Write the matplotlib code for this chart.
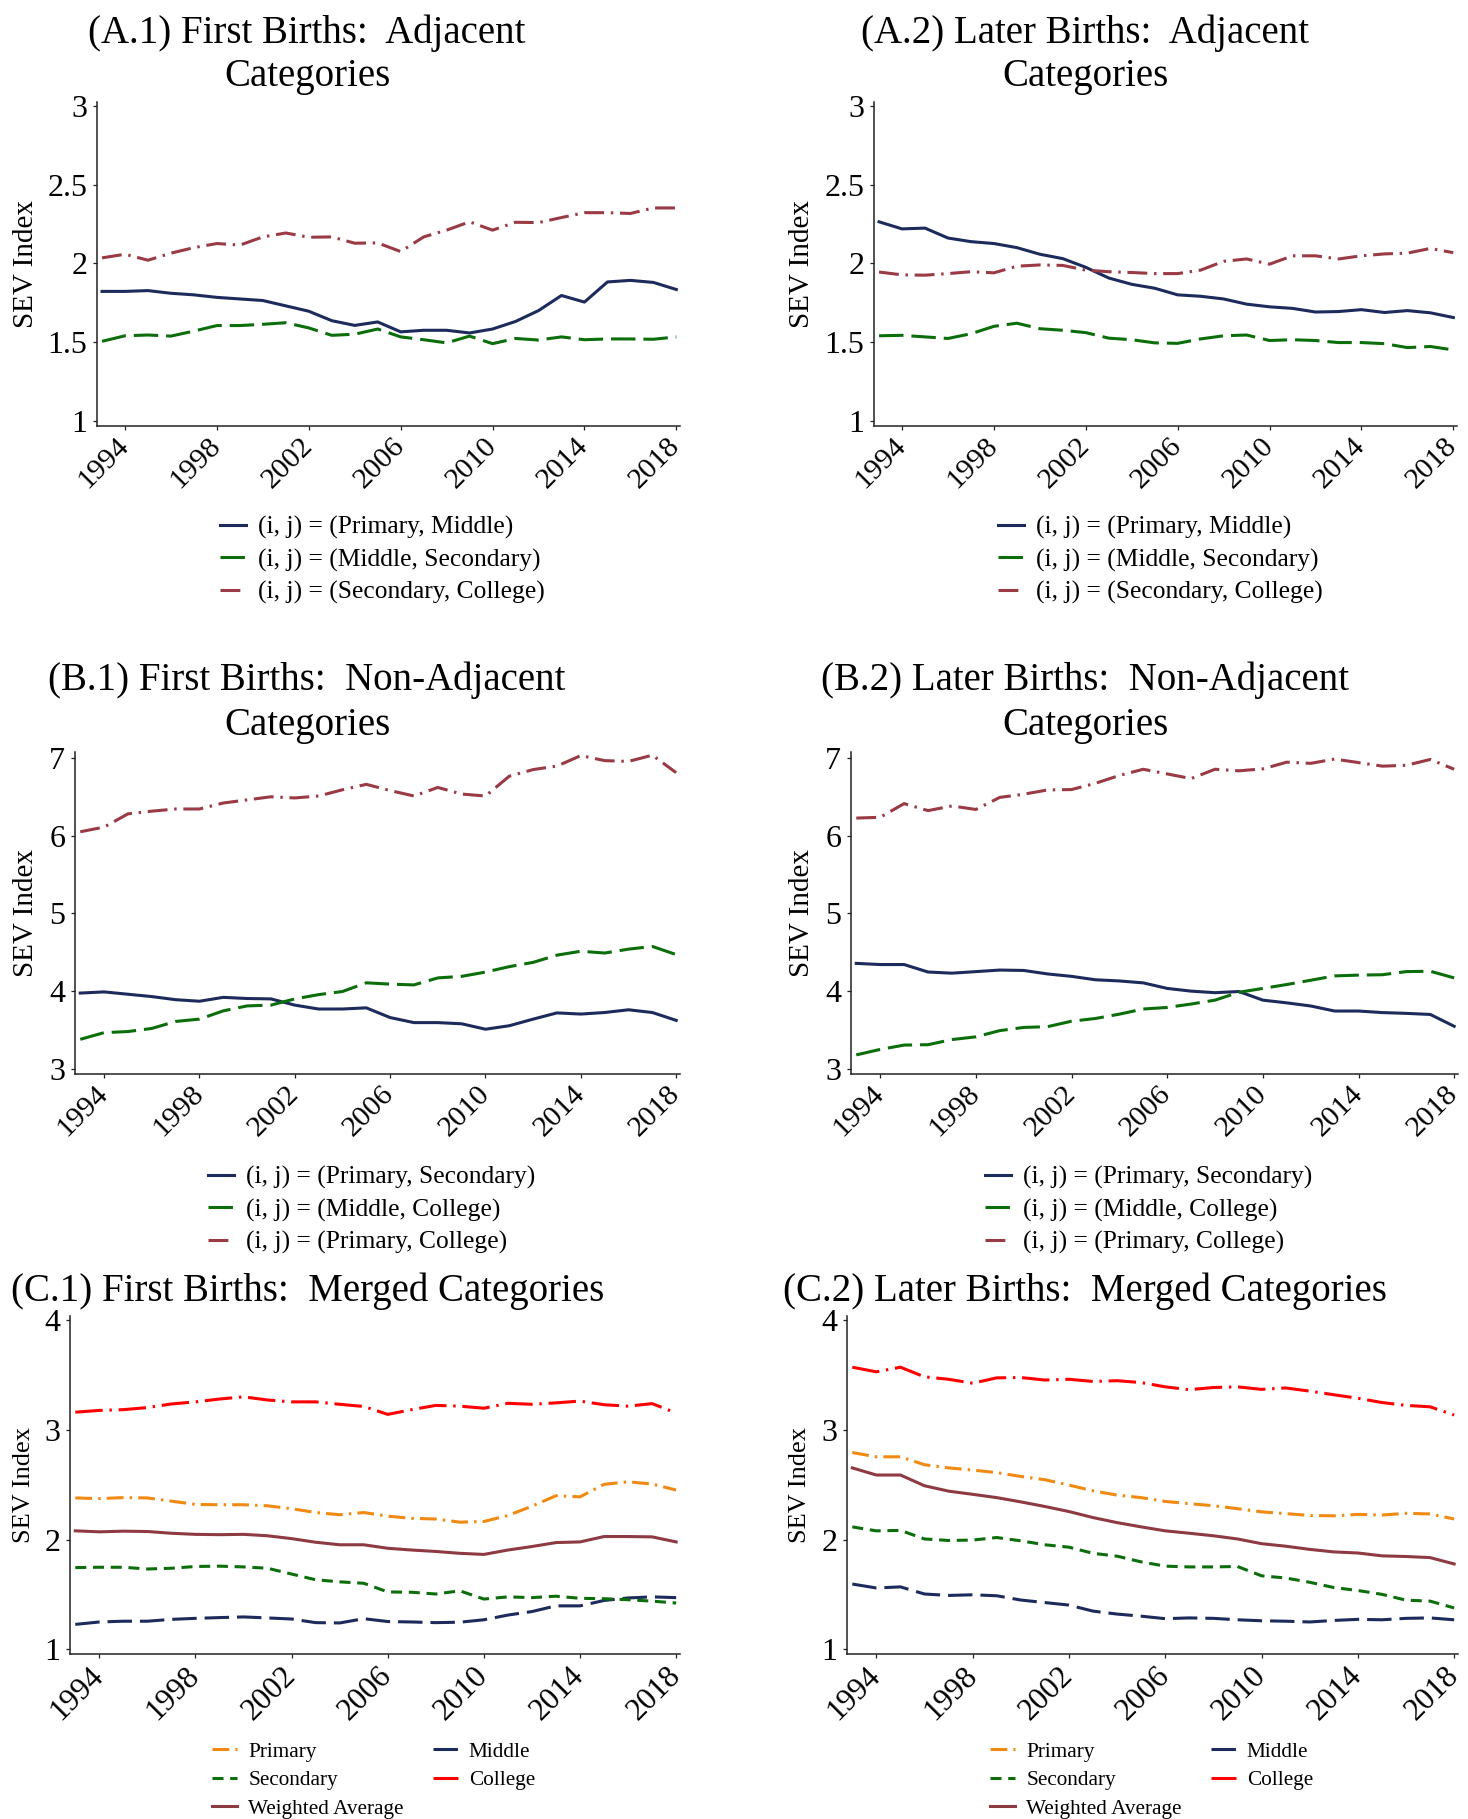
import matplotlib
matplotlib.use("Agg")
import matplotlib.pyplot as plt

plt.rcParams['font.family'] = ['Liberation Serif', 'DejaVu Serif']

# ---------------- data ----------------
years = list(range(1993, 2019))
xticks = [1994, 1998, 2002, 2006, 2010, 2014, 2018]

A1_pm = [1.822,1.822,1.827,1.810,1.800,1.784,1.774,1.764,1.730,1.696,1.636,1.606,1.628,1.565,1.575,1.575,1.558,1.583,1.631,1.700,1.796,1.754,1.882,1.892,1.879,1.834]
A1_ms = [1.505,1.540,1.545,1.538,1.570,1.605,1.605,1.613,1.623,1.590,1.543,1.550,1.583,1.533,1.515,1.495,1.538,1.490,1.523,1.513,1.533,1.515,1.520,1.520,1.518,1.533]
A1_sc = [2.035,2.058,2.020,2.065,2.100,2.126,2.116,2.168,2.193,2.166,2.168,2.128,2.130,2.075,2.168,2.211,2.264,2.211,2.261,2.259,2.291,2.322,2.322,2.317,2.352,2.352]

A2_pm = [2.264,2.219,2.224,2.161,2.138,2.126,2.100,2.058,2.030,1.975,1.907,1.867,1.842,1.800,1.791,1.774,1.741,1.724,1.714,1.691,1.694,1.706,1.688,1.700,1.686,1.656]
A2_ms = [1.540,1.543,1.533,1.523,1.553,1.600,1.620,1.585,1.575,1.560,1.525,1.515,1.495,1.492,1.520,1.540,1.545,1.510,1.515,1.510,1.497,1.497,1.490,1.465,1.472,1.450]
A2_sc = [1.945,1.927,1.925,1.935,1.947,1.940,1.982,1.990,1.987,1.957,1.947,1.942,1.935,1.935,1.957,2.013,2.028,1.995,2.048,2.048,2.028,2.048,2.060,2.065,2.095,2.068]

B1_ps = [3.975,3.990,3.960,3.930,3.890,3.870,3.920,3.905,3.900,3.820,3.770,3.770,3.785,3.660,3.595,3.595,3.580,3.510,3.555,3.640,3.720,3.705,3.725,3.760,3.725,3.624]
B1_mc = [3.380,3.466,3.480,3.520,3.610,3.640,3.746,3.810,3.820,3.900,3.955,3.995,4.107,4.090,4.080,4.170,4.190,4.245,4.315,4.370,4.463,4.513,4.490,4.540,4.575,4.470]
B1_pc = [6.050,6.110,6.280,6.315,6.343,6.343,6.420,6.460,6.500,6.485,6.510,6.590,6.660,6.580,6.510,6.620,6.535,6.510,6.765,6.850,6.895,7.030,6.965,6.955,7.035,6.810]

B2_ps = [4.357,4.342,4.342,4.246,4.231,4.251,4.271,4.266,4.221,4.190,4.146,4.131,4.106,4.035,4.000,3.980,3.995,3.884,3.849,3.809,3.744,3.744,3.724,3.714,3.700,3.548]
B2_mc = [3.180,3.250,3.306,3.311,3.377,3.412,3.492,3.533,3.543,3.613,3.648,3.704,3.770,3.790,3.834,3.884,3.985,4.035,4.085,4.140,4.196,4.206,4.211,4.251,4.256,4.170]
B2_pc = [6.226,6.236,6.412,6.322,6.382,6.337,6.492,6.533,6.588,6.593,6.673,6.774,6.854,6.794,6.734,6.854,6.834,6.859,6.945,6.930,6.985,6.940,6.894,6.905,6.980,6.854]

C1_primary   = [2.381,2.375,2.384,2.381,2.352,2.322,2.319,2.319,2.309,2.283,2.248,2.228,2.248,2.215,2.195,2.189,2.160,2.166,2.221,2.306,2.401,2.391,2.505,2.528,2.508,2.453]
C1_middle    = [1.228,1.250,1.257,1.257,1.274,1.283,1.290,1.296,1.287,1.277,1.244,1.241,1.280,1.254,1.250,1.244,1.248,1.270,1.313,1.345,1.397,1.397,1.446,1.469,1.479,1.472]
C1_secondary = [1.746,1.749,1.749,1.733,1.740,1.756,1.759,1.752,1.740,1.687,1.635,1.616,1.603,1.524,1.521,1.505,1.534,1.459,1.479,1.472,1.485,1.466,1.462,1.453,1.440,1.423]
C1_college   = [3.163,3.179,3.186,3.205,3.238,3.257,3.283,3.303,3.274,3.257,3.257,3.235,3.215,3.143,3.186,3.225,3.218,3.199,3.244,3.235,3.248,3.264,3.231,3.218,3.241,3.156]
C1_wavg      = [2.081,2.072,2.078,2.075,2.059,2.049,2.046,2.049,2.036,2.010,1.977,1.954,1.954,1.922,1.906,1.893,1.876,1.866,1.906,1.938,1.974,1.980,2.029,2.029,2.026,1.980]

C2_primary   = [2.795,2.756,2.756,2.684,2.655,2.635,2.612,2.577,2.547,2.498,2.446,2.407,2.384,2.349,2.329,2.310,2.283,2.254,2.238,2.221,2.218,2.231,2.225,2.241,2.235,2.189]
C2_middle    = [1.596,1.560,1.570,1.505,1.492,1.498,1.489,1.450,1.427,1.404,1.349,1.322,1.303,1.280,1.287,1.283,1.270,1.261,1.257,1.250,1.264,1.274,1.270,1.283,1.287,1.270]
C2_secondary = [2.117,2.081,2.085,2.007,1.993,1.997,2.020,1.990,1.954,1.932,1.876,1.850,1.798,1.759,1.752,1.752,1.756,1.671,1.651,1.612,1.564,1.537,1.502,1.449,1.440,1.378]
C2_college   = [3.573,3.531,3.573,3.485,3.463,3.427,3.476,3.479,3.456,3.463,3.443,3.450,3.433,3.394,3.368,3.388,3.394,3.371,3.384,3.355,3.322,3.290,3.251,3.225,3.212,3.137]
C2_wavg      = [2.655,2.590,2.590,2.492,2.443,2.414,2.384,2.345,2.303,2.257,2.202,2.156,2.117,2.081,2.059,2.036,2.007,1.964,1.941,1.912,1.889,1.879,1.853,1.847,1.837,1.779]

A_labels = ["(i, j) = (Primary, Middle)", "(i, j) = (Middle, Secondary)", "(i, j) = (Secondary, College)"]
B_labels = ["(i, j) = (Primary, Secondary)", "(i, j) = (Middle, College)", "(i, j) = (Primary, College)"]
C_labels = ["Primary", "Secondary", "Weighted Average", "Middle", "College"]

# ---------------- styles ----------------
NAVY = '#1c2b5c'
GREEN = '#0b6e0b'
MAROON = '#9a3a44'
ORANGE = '#f08a12'
RED = '#ff0000'
WAVG = '#8e3a42'
LW = 2.2
solid = '-'
dash_long = (0, (8, 2.6))
dashdot = (0, (6.5, 2.2, 0.8, 2.2))
dash_short = (0, (3.6, 2.2))
dashdot_or = (0, (5.5, 2.0, 0.8, 2.0))
dashdot_red = (0, (9, 2.2, 0.8, 2.2))

W, H = 1468, 1819
fig = plt.figure(figsize=(W / 100, H / 100), dpi=100)


def make_ax(l, r, t, b):
    return fig.add_axes([l / W, 1 - b / H, (r - l) / W, (b - t) / H])


def style_ax(ax, ylim, yticks, ylabs, xfs, yfs, xpad):
    ax.set_xlim(1992.78, 2018.16)
    ax.set_ylim(*ylim)
    for s in ['top', 'right']:
        ax.spines[s].set_visible(False)
    for s in ['left', 'bottom']:
        ax.spines[s].set_linewidth(1.1)
        ax.spines[s].set_color('#222222')
    ax.set_xticks(xticks)
    ax.set_xticklabels([str(x) for x in xticks], rotation=45, ha='right',
                       va='center', rotation_mode='anchor', fontsize=xfs)
    ax.set_yticks(yticks)
    ax.set_yticklabels(ylabs, fontsize=yfs)
    ax.tick_params(axis='both', direction='out', length=3, width=0.9, color='#222222')
    ax.tick_params(axis='y', pad=4.0)
    ax.tick_params(axis='x', pad=xpad)


def title(x, ys, lines, fs=28):
    for y, s in zip(ys, lines):
        fig.text(x / W, 1 - y / H, s, ha='center', va='center', fontsize=fs)


def ylab(x, ax, fs):
    pos = ax.get_position()
    fig.text(x / W, pos.y0 + pos.height / 2, "SEV Index", rotation=90,
             ha='center', va='center', fontsize=fs)


A_yt = [1, 1.5, 2, 2.5, 3]
A_yl = ["1", "1.5", "2", "2.5", "3"]
B_yt = [3, 4, 5, 6, 7]
B_yl = ["3", "4", "5", "6", "7"]
C_yt = [1, 2, 3, 4]
C_yl = ["1", "2", "3", "4"]

# ---------------- row A ----------------
for (l, r, tx, lx, legx, pm, ms, sc, ttl) in [
        (97, 680, 307, 26, 220, A1_pm, A1_ms, A1_sc, ["(A.1) First Births:  Adjacent", "Categories"]),
        (874, 1457, 1085, 802, 998, A2_pm, A2_ms, A2_sc, ["(A.2) Later Births:  Adjacent", "Categories"])]:
    ax = make_ax(l, r, 102, 426)
    h1, = ax.plot(years, pm, color=NAVY, lw=LW, linestyle=solid)
    h2, = ax.plot(years, ms, color=GREEN, lw=LW, linestyle=dash_long)
    h3, = ax.plot(years, sc, color=MAROON, lw=LW, linestyle=dashdot)
    style_ax(ax, (0.967, 3.025), A_yt, A_yl, 21.5, 23, 8.5)
    title(tx, [33, 76.5], ttl)
    ylab(lx, ax, 21)
    ax.legend([h1, h2, h3], A_labels, loc='upper left',
              bbox_to_anchor=(legx / W, 1 - 516 / H), bbox_transform=fig.transFigure,
              frameon=False, borderpad=0, borderaxespad=0, handlelength=1.0,
              handletextpad=0.48, labelspacing=0.36, fontsize=18.4)

# ---------------- row B ----------------
for (l, r, tx, lx, legx, ps, mc, pc, ttl) in [
        (75, 680, 307, 26, 208, B1_ps, B1_mc, B1_pc, ["(B.1) First Births:  Non-Adjacent", "Categories"]),
        (851, 1458, 1085, 802, 985, B2_ps, B2_mc, B2_pc, ["(B.2) Later Births:  Non-Adjacent", "Categories"])]:
    ax = make_ax(l, r, 752, 1074)
    h1, = ax.plot(years, ps, color=NAVY, lw=LW, linestyle=solid)
    h2, = ax.plot(years, mc, color=GREEN, lw=LW, linestyle=dash_long)
    h3, = ax.plot(years, pc, color=MAROON, lw=LW, linestyle=dashdot)
    style_ax(ax, (2.934, 7.076), B_yt, B_yl, 21.5, 23, 8.5)
    title(tx, [680.5, 725.5], ttl)
    ylab(lx, ax, 21)
    ax.legend([h1, h2, h3], B_labels, loc='upper left',
              bbox_to_anchor=(legx / W, 1 - 1166 / H), bbox_transform=fig.transFigure,
              frameon=False, borderpad=0, borderaxespad=0, handlelength=1.0,
              handletextpad=0.48, labelspacing=0.36, fontsize=18.4)

# ---------------- row C ----------------
for (l, r, tx, lx, legx, pr, mi, se, co, wa, ttl) in [
        (70, 680, 308, 24, 212, C1_primary, C1_middle, C1_secondary, C1_college, C1_wavg,
         "(C.1) First Births:  Merged Categories"),
        (847, 1458, 1085, 800, 990, C2_primary, C2_middle, C2_secondary, C2_college, C2_wavg,
         "(C.2) Later Births:  Merged Categories")]:
    ax = make_ax(l, r, 1316, 1654)
    hp, = ax.plot(years, pr, color=ORANGE, lw=LW, linestyle=dashdot_or)
    hm, = ax.plot(years, mi, color=NAVY, lw=LW, linestyle=dash_long)
    hs, = ax.plot(years, se, color=GREEN, lw=LW, linestyle=dash_short)
    hc, = ax.plot(years, co, color=RED, lw=LW, linestyle=dashdot_red)
    hw, = ax.plot(years, wa, color=WAVG, lw=LW, linestyle=solid)
    style_ax(ax, (0.958, 4.04), C_yt, C_yl, 22.5, 23, 9.5)
    title(tx, [1291], [ttl])
    ylab(lx, ax, 19)
    ax.legend([hp, hs, hw, hm, hc], C_labels, ncol=2, loc='upper left',
              bbox_to_anchor=(legx / W, 1 - 1742 / H), bbox_transform=fig.transFigure,
              frameon=False, borderpad=0, borderaxespad=0, handlelength=1.18,
              handletextpad=0.52, labelspacing=0.40, columnspacing=1.37, fontsize=15.3)

fig.savefig("out.png", dpi=100)
